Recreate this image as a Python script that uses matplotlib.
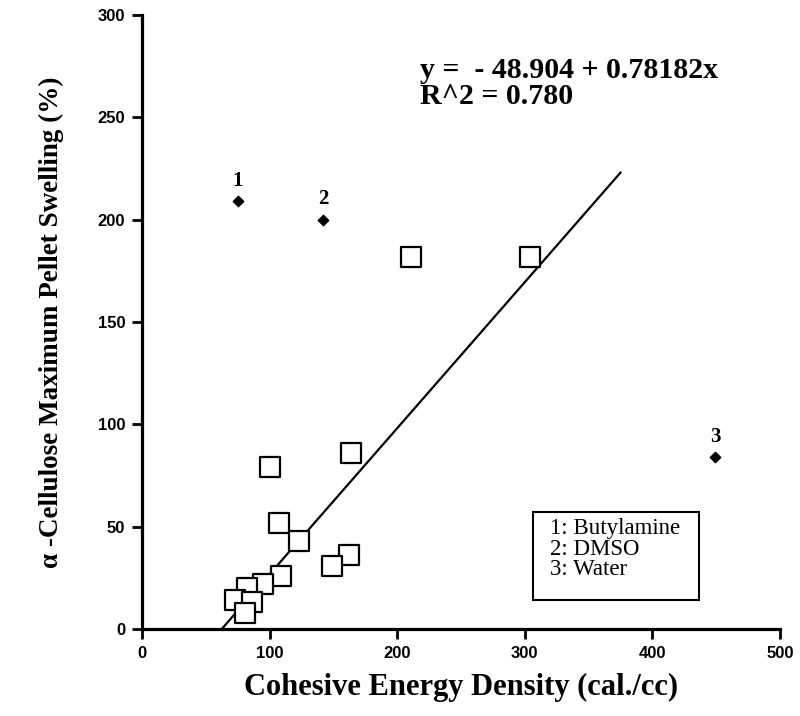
import matplotlib.pyplot as plt
from matplotlib.patches import Rectangle

# Data
ced = [100, 164, 107, 123, 162, 149, 109, 95, 82, 73, 86, 81, 211, 304]
swelling = [79, 86, 52, 43, 36, 31, 26, 22, 20, 14, 13, 8, 182, 182]

outlier_ced = [75, 142, 449]
outlier_swelling = [209, 200, 84]
outlier_labels = ["1", "2", "3"]

fit_x = [62.5, 375]
fit_y = [0, 223]

legend_lines = ["1: Butylamine", "2: DMSO", "3: Water"]

serif = "Liberation Serif"

fig = plt.figure(figsize=(8, 7.16), dpi=100)
ax = fig.add_axes([0.1775, 0.1215, 0.7975, 0.8575])

ax.plot(fit_x, fit_y, color="black", lw=1.6)
ax.scatter(ced, swelling, marker="s", s=190, facecolors="white",
           edgecolors="black", linewidths=1.6, zorder=3)
ax.scatter(outlier_ced, outlier_swelling, marker="D", s=28, color="black", zorder=3)
for x, y, t in zip(outlier_ced, outlier_swelling, outlier_labels):
    ax.text(x, y + 5, t, ha="center", va="bottom", family=serif,
            fontweight="bold", fontsize=15)

ax.text(0.436, 0.932, "y =  - 48.904 + 0.78182x\nR^2 = 0.780", transform=ax.transAxes,
        ha="left", va="top", family=serif, fontweight="bold", fontsize=21.5,
        linespacing=0.95)

ax.add_patch(Rectangle((0.613, 0.047), 0.26, 0.143, transform=ax.transAxes,
                       facecolor="white", edgecolor="black", lw=1.5, zorder=4))
ax.text(0.64, 0.181, "\n".join(legend_lines), transform=ax.transAxes,
        ha="left", va="top", family=serif, fontsize=16.5, linespacing=0.98, zorder=5)

ax.set_xlim(0, 500)
ax.set_ylim(0, 300)
ax.set_xticks([0, 100, 200, 300, 400, 500])
ax.set_yticks([0, 50, 100, 150, 200, 250, 300])
ax.tick_params(direction="out", length=7, width=2, labelsize=12, pad=5)
for lab in ax.get_xticklabels() + ax.get_yticklabels():
    lab.set_family("Liberation Sans")
    lab.set_fontweight("bold")

for side in ["top", "right"]:
    ax.spines[side].set_visible(False)
for side in ["left", "bottom"]:
    ax.spines[side].set_linewidth(2.3)

ax.set_xlabel("Cohesive Energy Density (cal./cc)", family=serif,
              fontweight="bold", fontsize=22, labelpad=9)
ax.set_ylabel("α -Cellulose Maximum Pellet Swelling (%)", family=serif,
              fontweight="bold", fontsize=19.5, labelpad=24)

fig.savefig("out.png", dpi=100)
